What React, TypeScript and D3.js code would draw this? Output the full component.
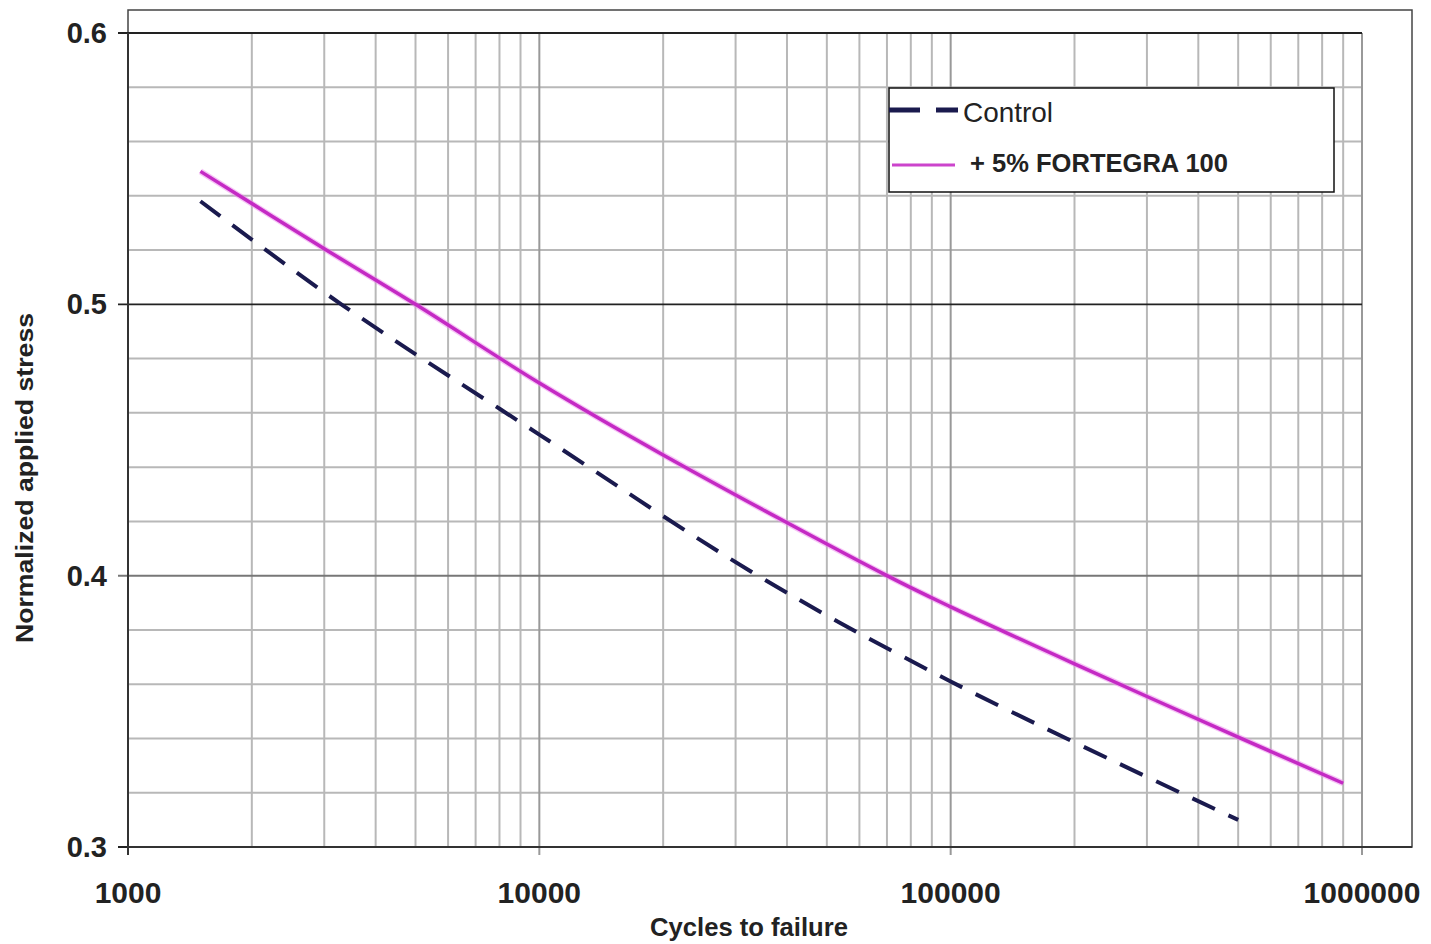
import React from "react";
import * as d3 from "d3";

const controlCycles = [1500, 3300, 10000, 34000, 100000, 500000];
const controlStress = [0.538, 0.5, 0.452, 0.4, 0.361, 0.31];
const fortegraCycles = [1500, 3000, 5000, 10000, 20000, 70000, 100000, 200000, 500000, 900000];
const fortegraStress = [0.549, 0.5205, 0.5, 0.471, 0.4445, 0.4, 0.3885, 0.3675, 0.3405, 0.3235];
const xTicks = [1000, 10000, 100000, 1000000];
const yTicks = [0.3, 0.4, 0.5, 0.6];
const legendLabels = ["Control", "+ 5% FORTEGRA 100"];

const W = 1431, H = 944;
const L = 128, R = 1362, T = 33, B = 847;
const FONT = "'Liberation Sans', Arial, sans-serif";

export default function App() {
  const x = d3.scaleLog().domain([1000, 1000000]).range([L, R]);
  const y = d3.scaleLinear().domain([0.3, 0.6]).range([B, T]);

  const minorX: number[] = [];
  for (let dec = 1000; dec < 1000000; dec *= 10) {
    for (let k = 2; k <= 9; k++) minorX.push(dec * k);
  }
  const minorY: number[] = [];
  for (let i = 1; i < 15; i++) {
    const v = 0.3 + i * 0.02;
    if (i % 5 !== 0) minorY.push(+v.toFixed(2));
  }

  const line = d3
    .line<[number, number]>()
    .x((d) => x(d[0]))
    .y((d) => y(d[1]))
    .curve(d3.curveCatmullRom.alpha(0.5));

  const controlPath = line(controlCycles.map((c, i) => [c, controlStress[i]]));
  const fortegraPath = line(fortegraCycles.map((c, i) => [c, fortegraStress[i]]));

  return (
    <svg width={W} height={H} style={{ position: "absolute", left: 0, top: 0, background: "#fff" }}>
      <rect x={0} y={0} width={W} height={H} fill="#fff" />
      <rect x={L} y={10} width={1412 - L} height={B - 10} fill="none" stroke="#444" strokeWidth={1.5} />
      {minorY.map((v) => (
        <line key={"my" + v} x1={L} x2={R} y1={y(v)} y2={y(v)} stroke="#b8b8b8" strokeWidth={2} />
      ))}
      {minorX.map((v) => (
        <line key={"mx" + v} x1={x(v)} x2={x(v)} y1={T} y2={B} stroke="#b8b8b8" strokeWidth={2} />
      ))}
      {xTicks.slice(1).map((v) => (
        <line key={"vx" + v} x1={x(v)} x2={x(v)} y1={T} y2={B + 8} stroke="#999" strokeWidth={2} />
      ))}
      {yTicks.map((v) => (
        <line
          key={"gy" + v}
          x1={L - 10}
          x2={R}
          y1={y(v)}
          y2={y(v)}
          stroke={v === 0.4 ? "#777" : "#222"}
          strokeWidth={v === 0.4 ? 2 : 1.8}
        />
      ))}
      <line x1={L} x2={L} y1={T} y2={B + 8} stroke="#333" strokeWidth={2} />
      <line x1={L} x2={1412} y1={B} y2={B} stroke="#333" strokeWidth={2} />

      <path d={fortegraPath || ""} fill="none" stroke="#ee88ee" strokeWidth={6} opacity={0.5} />
      <path d={fortegraPath || ""} fill="none" stroke="#c42ac4" strokeWidth={3.5} />
      <path d={controlPath || ""} fill="none" stroke="#1a1a4e" strokeWidth={4} strokeDasharray="25 15" />

      {yTicks.map((v) => (
        <text
          key={"yl" + v}
          x={107}
          y={y(v) + 10}
          textAnchor="end"
          fontFamily={FONT}
          fontWeight="bold"
          fontSize={29}
          fill="#222"
        >
          {v.toFixed(1)}
        </text>
      ))}
      {xTicks.map((v) => (
        <text
          key={"xl" + v}
          x={x(v)}
          y={903}
          textAnchor="middle"
          fontFamily={FONT}
          fontWeight="bold"
          fontSize={30}
          fill="#222"
        >
          {String(v)}
        </text>
      ))}

      <text x={749} y={936} textAnchor="middle" fontFamily={FONT} fontWeight="bold" fontSize={25.5} fill="#222" textLength={198} lengthAdjust="spacingAndGlyphs">
        Cycles to failure
      </text>
      <text
        transform="translate(33,478) rotate(-90)"
        textAnchor="middle"
        fontFamily={FONT}
        fontWeight="bold"
        fontSize={24}
        fill="#222"
        textLength={330}
        lengthAdjust="spacingAndGlyphs"
      >
        Normalized applied stress
      </text>

      <rect x={889} y={88} width={445} height={104} fill="#fff" stroke="#111" strokeWidth={1.5} />
      <line x1={889} x2={958} y1={110} y2={110} stroke="#1a1a4e" strokeWidth={5} strokeDasharray="31 16" />
      <text x={963} y={122} fontFamily={FONT} fontSize={28} fill="#222" textLength={90} lengthAdjust="spacingAndGlyphs">
        {legendLabels[0]}
      </text>
      <line x1={892} x2={955} y1={165} y2={165} stroke="#cc44cc" strokeWidth={3} />
      <text x={970} y={172} fontFamily={FONT} fontWeight="bold" fontSize={25} fill="#222" textLength={258} lengthAdjust="spacingAndGlyphs">
        {legendLabels[1]}
      </text>
    </svg>
  );
}
